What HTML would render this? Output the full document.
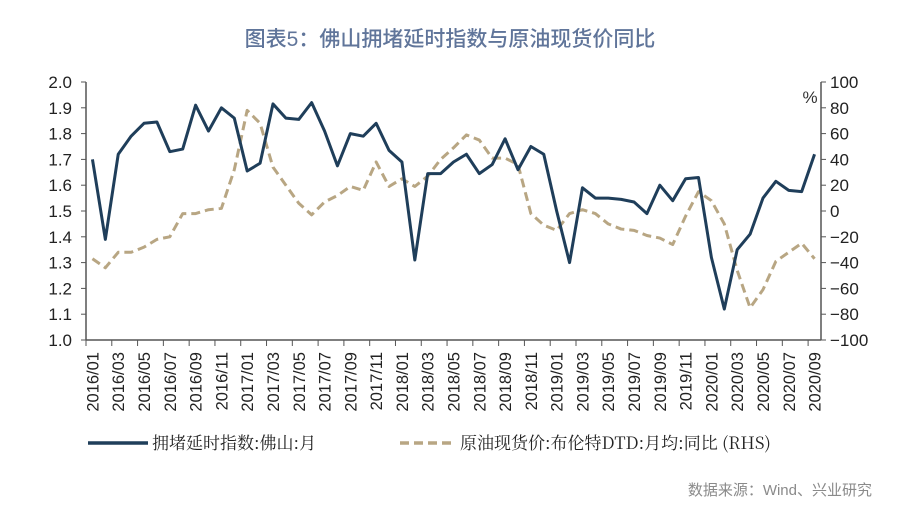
<!DOCTYPE html>
<html><head><meta charset="utf-8"><style>
body{margin:0;background:#fff;width:900px;height:511px;overflow:hidden}
svg text{font-family:"Liberation Sans","Noto Sans CJK SC",sans-serif}
</style></head><body>
<svg id="c" width="900" height="511">
<text x="450" y="46" text-anchor="middle" font-size="21" fill="#60759a" font-weight="500">图表5：佛山拥堵延时指数与原油现货价同比</text>
<g id="axes"></g>
<g id="marks"></g>
<g>
<line x1="88" y1="443" x2="148" y2="443" stroke="#1f3e5a" stroke-width="3.5"/>
<text x="152" y="449" font-size="17" fill="#222" style="font-family:'Noto Serif CJK SC',serif">拥堵延时指数:佛山:月</text>
<line x1="400" y1="443" x2="455" y2="443" stroke="#b8a683" stroke-width="3.5" stroke-dasharray="9,5"/>
<text x="460" y="449" font-size="17" fill="#222" style="font-family:'Noto Serif CJK SC',serif">原油现货价:布伦特DTD:月均:同比 (RHS)</text>
</g>
<text x="872" y="495" text-anchor="end" font-size="15" fill="#8a8a8a">数据来源：Wind、兴业研究</text>
<text x="810" y="103" text-anchor="middle" font-size="17" fill="#333">%</text>
</svg>
<script>
const congestion=[1.70,1.39,1.72,1.79,1.84,1.845,1.73,1.74,1.91,1.81,1.90,1.86,1.655,1.685,1.915,1.86,1.855,1.92,1.81,1.675,1.80,1.79,1.84,1.735,1.69,1.31,1.645,1.645,1.69,1.72,1.645,1.68,1.78,1.66,1.75,1.72,1.50,1.30,1.59,1.55,1.55,1.545,1.535,1.49,1.60,1.54,1.625,1.63,1.32,1.12,1.35,1.41,1.55,1.615,1.58,1.575,1.72];
const oilYoY=[-37,-44,-32,-32,-28,-22,-20,-2,-2,1,2,32,78,68,34,20,6,-3,7,12,19,16,38,19,25,19,27,40,49,59,55,41,41,36,-2,-11,-15,-2,1,-2,-10,-14,-15,-19,-21,-26,-4,15,8,-10,-46,-75,-61,-39,-32,-25,-37];
const leftTicks=[1.0,1.1,1.2,1.3,1.4,1.5,1.6,1.7,1.8,1.9,2.0];
const rightTicks=[-100,-80,-60,-40,-20,0,20,40,60,80,100];
const startYear=2016,startMonth=1;
const X0=86,X1=821,YT=82,YB=340;
const n=congestion.length;
const step=(X1-X0)/n;
const xs=i=>X0+step*(i+0.5);
const yl=v=>YB-(v-1.0)/(2.0-1.0)*(YB-YT);
const yr=v=>YB-(v+100)/200*(YB-YT);
const NS="http://www.w3.org/2000/svg";
const ax=document.getElementById('axes'),mk=document.getElementById('marks');
function mkEl(t,a,p){const e=document.createElementNS(NS,t);for(const k in a)e.setAttribute(k,a[k]);p.appendChild(e);return e;}
let e;
e=mkEl('line',{x1:X0,y1:YT,x2:X0,y2:YB,stroke:'#555','stroke-width':1.5},ax);


e=mkEl('line',{x1:X1,y1:YT,x2:X1,y2:YB,stroke:'#555','stroke-width':1.5},ax);


e=mkEl('line',{x1:X0,y1:YB,x2:X1,y2:YB,stroke:'#555','stroke-width':1.5},ax);


leftTicks.forEach(v=>{
 mkEl('line',{x1:X0-5,y1:yl(v),x2:X0,y2:yl(v),stroke:'#555'},ax);
 e=mkEl('text',{x:X0-14,y:yl(v)+6,'text-anchor':'end','font-size':17,fill:'#222'},ax);
 e.textContent=v.toFixed(1);
 
 
});
rightTicks.forEach(v=>{
 mkEl('line',{x1:X1,y1:yr(v),x2:X1+5,y2:yr(v),stroke:'#555'},ax);
 e=mkEl('text',{x:X1+9,y:yr(v)+6,'font-size':17,fill:'#222'},ax);
 e.textContent=v<0?'−'+(-v):String(v);
 
 
});
for(let i=0;i<=n;i++){ if(i%2===0) mkEl('line',{x1:X0+step*i,y1:YB,x2:X0+step*i,y2:YB+6,stroke:'#555'},ax); }
for(let i=0;i<n;i+=2){
 const m=startMonth-1+i,yr_=startYear+Math.floor(m/12),mo=m%12+1;
 const x=xs(i);
 e=mkEl('text',{x:0,y:0,'font-size':16.5,fill:'#222','text-anchor':'end',transform:`translate(${x+6},352) rotate(-90)`},ax);
 e.textContent=yr_+'/'+String(mo).padStart(2,'0');
 
 
}
e=mkEl('polyline',{points:oilYoY.map((v,i)=>xs(i)+','+yr(v)).join(' '),fill:'none',stroke:'#b8a683','stroke-width':3,'stroke-dasharray':'9,5','stroke-linejoin':'round'},mk);


e=mkEl('polyline',{points:congestion.map((v,i)=>xs(i)+','+yl(v)).join(' '),fill:'none',stroke:'#1f3e5a','stroke-width':3,'stroke-linejoin':'round'},mk);


</script>
</body></html>
